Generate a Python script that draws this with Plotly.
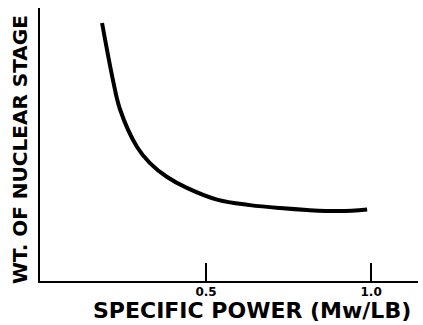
import plotly.graph_objects as go

# Data
specific_power = [0.185, 0.218, 0.239, 0.291, 0.330, 0.382, 0.442, 0.536, 0.633, 0.724, 0.806, 0.906, 0.988]
stage_weight = [0.945, 0.736, 0.630, 0.491, 0.432, 0.381, 0.341, 0.297, 0.278, 0.267, 0.260, 0.256, 0.262]
tick_vals = [0.5, 1.0]
tick_text = ["0.5", "1.0"]
x_title = "SPECIFIC POWER (Mw/LB)"
y_title = "WT. OF NUCLEAR STAGE"

fig = go.Figure()
fig.add_trace(go.Scatter(
    x=specific_power, y=stage_weight, mode="lines",
    line=dict(color="black", width=4, shape="spline", smoothing=1.0),
    hoverinfo="skip", showlegend=False,
))

fig.update_layout(
    width=423, height=325,
    margin=dict(l=40, r=5, t=8, b=44),
    paper_bgcolor="white", plot_bgcolor="white",
    font=dict(family="DejaVu Sans", color="black"),
    xaxis=dict(
        range=[-0.003, 1.142], showgrid=False, zeroline=False,
        showline=True, linecolor="black", linewidth=2,
        tickmode="array", tickvals=tick_vals, ticktext=tick_text,
        ticks="inside", ticklen=18, tickwidth=1.5, tickcolor="black",
        tickfont=dict(size=12, family="DejaVu Sans", weight=700),
        ticklabelstandoff=-1,
    ),
    yaxis=dict(
        range=[0, 1], showgrid=False, zeroline=False,
        showline=True, linecolor="black", linewidth=2,
        showticklabels=False, ticks="",
    ),
    annotations=[
        dict(text=x_title, xref="paper", yref="paper", x=(252 - 40) / 378, y=(325 - 44 - 310) / 273,
             xanchor="center", yanchor="middle", showarrow=False,
             font=dict(size=22, family="DejaVu Sans", weight=700)),
        dict(text=y_title, xref="paper", yref="paper", x=(20 - 40) / 378, y=(281 - 150) / 273,
             xanchor="center", yanchor="middle", showarrow=False, textangle=-90,
             font=dict(size=20, family="DejaVu Sans", weight=700)),
    ],
)

fig.write_html("out.html")
